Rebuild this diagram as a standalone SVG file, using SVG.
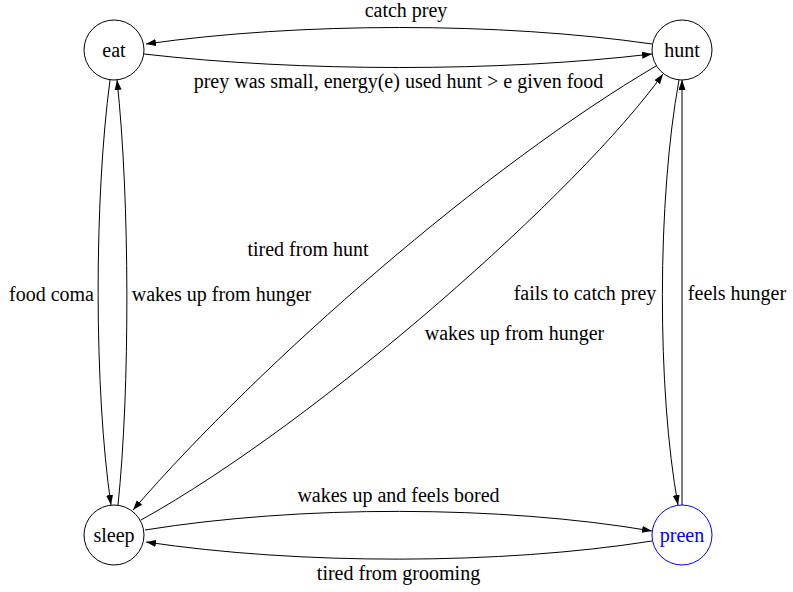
<svg xmlns="http://www.w3.org/2000/svg" width="793" height="592" viewBox="0 0 793 592">
<defs>
<marker id="arr" markerWidth="11" markerHeight="8" refX="10" refY="3.5" orient="auto" markerUnits="userSpaceOnUse">
<path d="M0,0 L10,3.5 L0,7 z" fill="#000"/>
</marker>
<style>
.node{fill:#fff;stroke:#000;stroke-width:1}
.lbl{font-size:20px;fill:#000;text-anchor:middle}
.edge{fill:none;stroke:#000;stroke-width:1;marker-end:url(#arr)}
</style>
</defs>
<rect width="793" height="592" fill="#fff"/>
<g font-family="Liberation Serif, Tinos, Times New Roman, DejaVu Serif, serif">
<g id="connectors">
<path class="edge" d="M652,44 C500,22 300,22 146,44"/>
<text class="lbl" x="406" y="17">catch prey</text>
<path class="edge" d="M144,54 C300,72 500,72 652,54"/>
<text class="lbl" x="398.5" y="88">prey was small, energy(e) used hunt &gt; e given food</text>
<path class="edge" d="M110,80 C94,200 94,390 111,505"/>
<text class="lbl" x="51.5" y="301">food coma</text>
<path class="edge" d="M118,505 C130,390 130,200 117,80"/>
<text class="lbl" x="221.5" y="301">wakes up from hunger</text>
<path class="edge" d="M656,66 C486,166 263,360 133,510"/>
<text class="lbl" x="308" y="256">tired from hunt</text>
<path class="edge" d="M141,520 C321,420 580,190 663,74"/>
<text class="lbl" x="514.5" y="340">wakes up from hunger</text>
<path class="edge" d="M679,80 C657,200 657,390 678,505"/>
<text class="lbl" x="585" y="300">fails to catch prey</text>
<path class="edge" d="M682,505 L682,80"/>
<text class="lbl" x="737" y="300">feels hunger</text>
<path class="edge" d="M145,530 C300,505 500,505 652,531"/>
<text class="lbl" x="398.5" y="502">wakes up and feels bored</text>
<path class="edge" d="M652,541 C500,565 300,565 146,542"/>
<text class="lbl" x="398.5" y="580">tired from grooming</text>
</g>
<g id="eat">
<circle class="node" cx="114" cy="50" r="30"/>
<text class="lbl" x="114" y="57">eat</text>
</g>
<g id="hunt">
<circle class="node" cx="682" cy="50" r="30"/>
<text class="lbl" x="682" y="57">hunt</text>
</g>
<g id="sleep">
<circle class="node" cx="114" cy="535" r="30"/>
<text class="lbl" x="114" y="542">sleep</text>
</g>
<g id="preen">
<circle class="node" cx="682" cy="535" r="30" style="stroke:#0000ff"/>
<text class="lbl" x="682" y="542" style="fill:#0000ff">preen</text>
</g>
</g>
</svg>
